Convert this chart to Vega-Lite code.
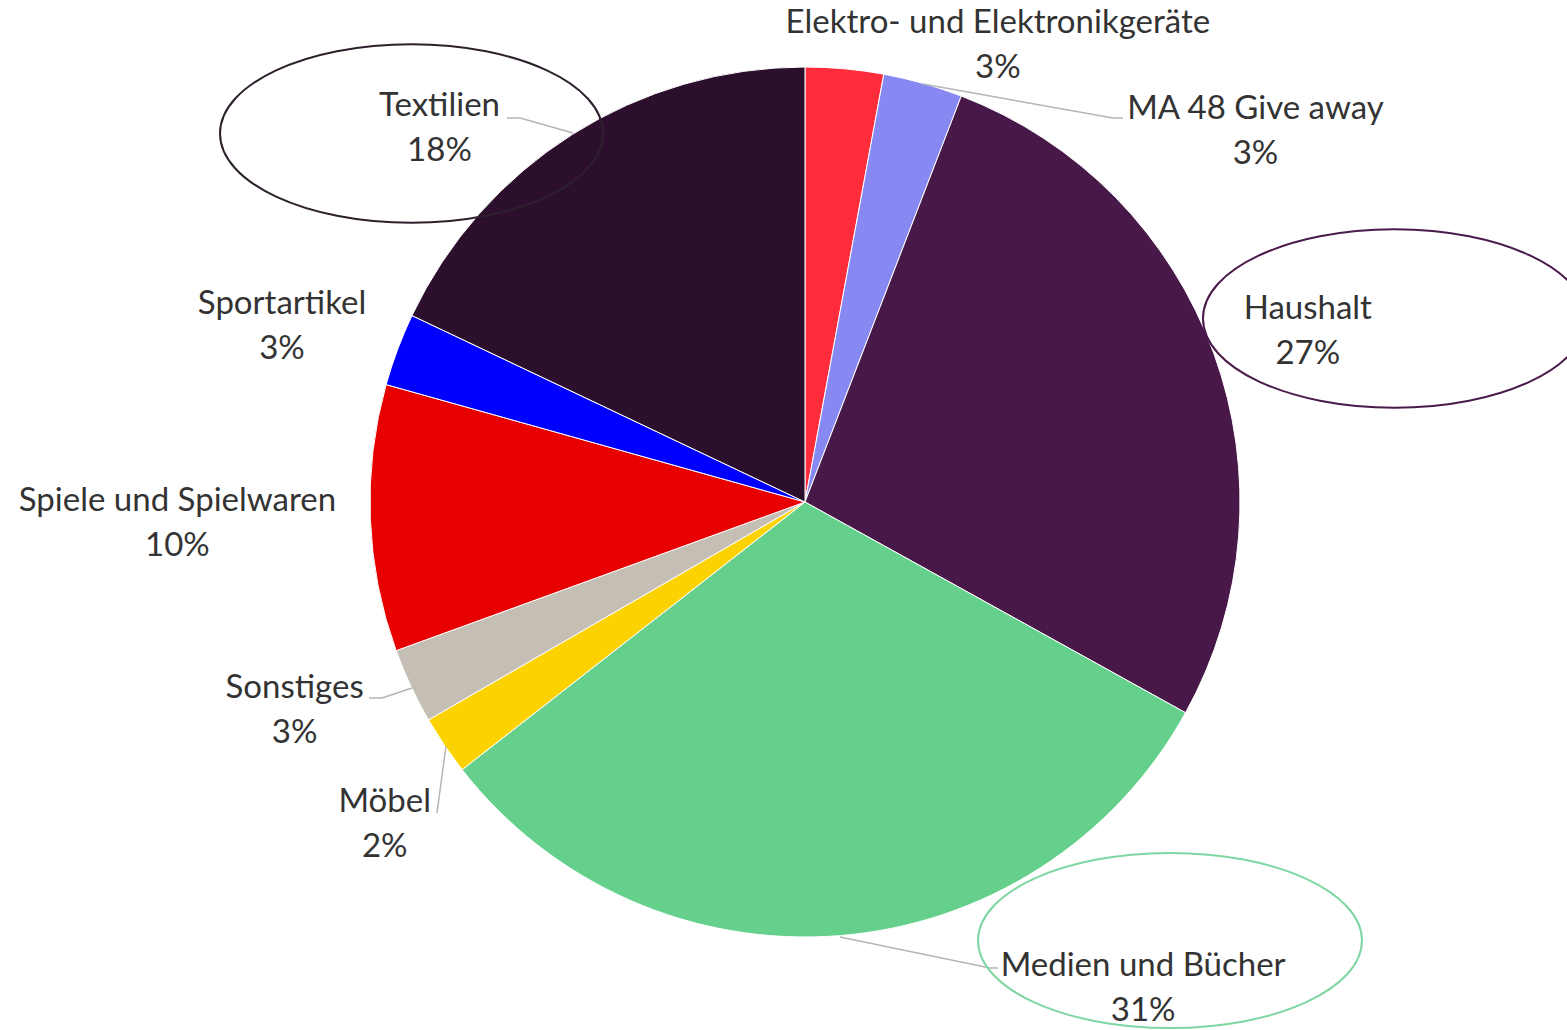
{
  "$schema": "https://vega.github.io/schema/vega-lite/v6.json",
  "width": 1524,
  "height": 1004,
  "padding": {"left": 43, "top": 0, "right": 0, "bottom": 26},
  "autosize": {"type": "none"},
  "background": "#ffffff",
  "config": {
    "view": {"stroke": null},
    "text": {"font": "Lato", "fontSize": 33, "lineHeight": 45, "lineBreak": "\n", "color": "#333333", "align": "center", "baseline": "middle"}
  },
  "data": {
    "values": [
      {"Kategorie": "Elektro- und Elektronikgeräte", "Anteil": 2.9, "Label": "Elektro- und Elektronikgeräte\n3%"},
      {"Kategorie": "MA 48 Give away", "Anteil": 2.95, "Label": "MA 48 Give away\n3%"},
      {"Kategorie": "Haushalt", "Anteil": 27.2, "Label": "Haushalt\n27%"},
      {"Kategorie": "Medien und Bücher", "Anteil": 31.4, "Label": "Medien und Bücher\n31%"},
      {"Kategorie": "Möbel", "Anteil": 2.2, "Label": "Möbel\n2%"},
      {"Kategorie": "Sonstiges", "Anteil": 2.8, "Label": "Sonstiges\n3%"},
      {"Kategorie": "Spiele und Spielwaren", "Anteil": 9.9, "Label": "Spiele und Spielwaren\n10%"},
      {"Kategorie": "Sportartikel", "Anteil": 2.7, "Label": "Sportartikel\n3%"},
      {"Kategorie": "Textilien", "Anteil": 17.95, "Label": "Textilien\n18%"}
    ]
  },
  "transform": [{"stack": "Anteil", "groupby": [], "as": ["a0", "a1"]}],
  "layer": [
    {
      "mark": {"type": "arc", "outerRadius": 435, "stroke": "#ffffff", "strokeWidth": 1},
      "encoding": {
        "theta": {"field": "a0", "type": "quantitative", "scale": {"domain": [0, 100]}},
        "theta2": {"field": "a1"},
        "color": {
          "field": "Kategorie", "type": "nominal", "legend": null,
          "scale": {
            "domain": ["Elektro- und Elektronikgeräte", "MA 48 Give away", "Haushalt", "Medien und Bücher", "Möbel", "Sonstiges", "Spiele und Spielwaren", "Sportartikel", "Textilien"],
            "range": ["#FF2D3C", "#8888F2", "#481848", "#64D08C", "#FCD200", "#C5BEB4", "#E80000", "#0000FF", "#2C0F2C"]
          }
        }
      }
    },
    {
      "mark": {"type": "text", "radius": 460, "dx": 151, "dy": -20.5},
      "encoding": {"theta": {"field": "Anteil", "type": "quantitative", "stack": true}, "order": {"field": "a0", "type": "quantitative"}, "text": {"condition": {"test": "datum.Kategorie === 'Elektro- und Elektronikgeräte'", "field": "Label"}, "value": ""}}
    },
    {
      "mark": {"type": "text", "radius": 440, "dx": 331, "dy": 30.5},
      "encoding": {"theta": {"field": "Anteil", "type": "quantitative", "stack": true}, "order": {"field": "a0", "type": "quantitative"}, "text": {"condition": {"test": "datum.Kategorie === 'MA 48 Give away'", "field": "Label"}, "value": ""}}
    },
    {
      "mark": {"type": "text", "radius": 535, "dx": 0, "dy": -10.5},
      "encoding": {"theta": {"field": "Anteil", "type": "quantitative", "stack": true}, "order": {"field": "a0", "type": "quantitative"}, "text": {"condition": {"test": "datum.Kategorie === 'Haushalt'", "field": "Label"}, "value": ""}}
    },
    {
      "mark": {"type": "text", "radius": 486, "dx": 300, "dy": -20.5},
      "encoding": {"theta": {"field": "Anteil", "type": "quantitative", "stack": true}, "order": {"field": "a0", "type": "quantitative"}, "text": {"condition": {"test": "datum.Kategorie === 'Medien und Bücher'", "field": "Label"}, "value": ""}}
    },
    {
      "mark": {"type": "text", "radius": 530, "dx": 19, "dy": 3.5},
      "encoding": {"theta": {"field": "Anteil", "type": "quantitative", "stack": true}, "order": {"field": "a0", "type": "quantitative"}, "text": {"condition": {"test": "datum.Kategorie === 'Möbel'", "field": "Label"}, "value": ""}}
    },
    {
      "mark": {"type": "text", "radius": 550, "dx": -12, "dy": -46.5},
      "encoding": {"theta": {"field": "Anteil", "type": "quantitative", "stack": true}, "order": {"field": "a0", "type": "quantitative"}, "text": {"condition": {"test": "datum.Kategorie === 'Sonstiges'", "field": "Label"}, "value": ""}}
    },
    {
      "mark": {"type": "text", "radius": 628, "dx": 0, "dy": -24.5},
      "encoding": {"theta": {"field": "Anteil", "type": "quantitative", "stack": true}, "order": {"field": "a0", "type": "quantitative"}, "text": {"condition": {"test": "datum.Kategorie === 'Spiele und Spielwaren'", "field": "Label"}, "value": ""}}
    },
    {
      "mark": {"type": "text", "radius": 552, "dx": -6, "dy": -4.5},
      "encoding": {"theta": {"field": "Anteil", "type": "quantitative", "stack": true}, "order": {"field": "a0", "type": "quantitative"}, "text": {"condition": {"test": "datum.Kategorie === 'Sportartikel'", "field": "Label"}, "value": ""}}
    },
    {
      "mark": {"type": "text", "radius": 450, "dx": -125, "dy": -15.5},
      "encoding": {"theta": {"field": "Anteil", "type": "quantitative", "stack": true}, "order": {"field": "a0", "type": "quantitative"}, "text": {"condition": {"test": "datum.Kategorie === 'Textilien'", "field": "Label"}, "value": ""}}
    },
    {
      "data": {"values": [{}]},
      "mark": {"type": "rule", "color": "#b5b5b5", "strokeWidth": 1.5},
      "encoding": {
        "x": {"datum": 923, "type": "quantitative", "scale": {"domain": [43, 1567], "range": [0, 1524], "nice": false, "zero": false}, "axis": null},
        "y": {"datum": 84, "type": "quantitative", "scale": {"domain": [0, 1004], "range": [0, 1004], "nice": false, "zero": false}, "axis": null},
        "x2": {"datum": 1113}, "y2": {"datum": 118}
      }
    },
    {
      "data": {"values": [{}]},
      "mark": {"type": "rule", "color": "#b5b5b5", "strokeWidth": 1.5},
      "encoding": {
        "x": {"datum": 1113, "type": "quantitative", "scale": {"domain": [43, 1567], "range": [0, 1524], "nice": false, "zero": false}, "axis": null},
        "y": {"datum": 118, "type": "quantitative", "scale": {"domain": [0, 1004], "range": [0, 1004], "nice": false, "zero": false}, "axis": null},
        "x2": {"datum": 1123}, "y2": {"datum": 118}
      }
    },
    {
      "data": {"values": [{}]},
      "mark": {"type": "rule", "color": "#b5b5b5", "strokeWidth": 1.5},
      "encoding": {
        "x": {"datum": 573, "type": "quantitative", "scale": {"domain": [43, 1567], "range": [0, 1524], "nice": false, "zero": false}, "axis": null},
        "y": {"datum": 133, "type": "quantitative", "scale": {"domain": [0, 1004], "range": [0, 1004], "nice": false, "zero": false}, "axis": null},
        "x2": {"datum": 520}, "y2": {"datum": 118}
      }
    },
    {
      "data": {"values": [{}]},
      "mark": {"type": "rule", "color": "#b5b5b5", "strokeWidth": 1.5},
      "encoding": {
        "x": {"datum": 520, "type": "quantitative", "scale": {"domain": [43, 1567], "range": [0, 1524], "nice": false, "zero": false}, "axis": null},
        "y": {"datum": 118, "type": "quantitative", "scale": {"domain": [0, 1004], "range": [0, 1004], "nice": false, "zero": false}, "axis": null},
        "x2": {"datum": 507}, "y2": {"datum": 118}
      }
    },
    {
      "data": {"values": [{}]},
      "mark": {"type": "rule", "color": "#b5b5b5", "strokeWidth": 1.5},
      "encoding": {
        "x": {"datum": 412, "type": "quantitative", "scale": {"domain": [43, 1567], "range": [0, 1524], "nice": false, "zero": false}, "axis": null},
        "y": {"datum": 688, "type": "quantitative", "scale": {"domain": [0, 1004], "range": [0, 1004], "nice": false, "zero": false}, "axis": null},
        "x2": {"datum": 382}, "y2": {"datum": 698}
      }
    },
    {
      "data": {"values": [{}]},
      "mark": {"type": "rule", "color": "#b5b5b5", "strokeWidth": 1.5},
      "encoding": {
        "x": {"datum": 382, "type": "quantitative", "scale": {"domain": [43, 1567], "range": [0, 1524], "nice": false, "zero": false}, "axis": null},
        "y": {"datum": 698, "type": "quantitative", "scale": {"domain": [0, 1004], "range": [0, 1004], "nice": false, "zero": false}, "axis": null},
        "x2": {"datum": 369}, "y2": {"datum": 698}
      }
    },
    {
      "data": {"values": [{}]},
      "mark": {"type": "rule", "color": "#b5b5b5", "strokeWidth": 1.5},
      "encoding": {
        "x": {"datum": 446, "type": "quantitative", "scale": {"domain": [43, 1567], "range": [0, 1524], "nice": false, "zero": false}, "axis": null},
        "y": {"datum": 746, "type": "quantitative", "scale": {"domain": [0, 1004], "range": [0, 1004], "nice": false, "zero": false}, "axis": null},
        "x2": {"datum": 437}, "y2": {"datum": 813}
      }
    },
    {
      "data": {"values": [{}]},
      "mark": {"type": "rule", "color": "#b5b5b5", "strokeWidth": 1.5},
      "encoding": {
        "x": {"datum": 840, "type": "quantitative", "scale": {"domain": [43, 1567], "range": [0, 1524], "nice": false, "zero": false}, "axis": null},
        "y": {"datum": 937, "type": "quantitative", "scale": {"domain": [0, 1004], "range": [0, 1004], "nice": false, "zero": false}, "axis": null},
        "x2": {"datum": 990}, "y2": {"datum": 968}
      }
    },
    {
      "data": {"values": [{}]},
      "mark": {"type": "rule", "color": "#b5b5b5", "strokeWidth": 1.5},
      "encoding": {
        "x": {"datum": 990, "type": "quantitative", "scale": {"domain": [43, 1567], "range": [0, 1524], "nice": false, "zero": false}, "axis": null},
        "y": {"datum": 968, "type": "quantitative", "scale": {"domain": [0, 1004], "range": [0, 1004], "nice": false, "zero": false}, "axis": null},
        "x2": {"datum": 998}, "y2": {"datum": 968}
      }
    },
    {
      "data": {"values": [{}]},
      "mark": {"type": "point", "shape": "M -1 0 C -1 -0.257 -0.5523 -0.466 0 -0.466 C 0.5523 -0.466 1 -0.257 1 0 C 1 0.257 0.5523 0.466 0 0.466 C -0.5523 0.466 -1 0.257 -1 0 Z", "size": 146689, "filled": false, "color": "#2d202d", "strokeWidth": 2, "opacity": 1},
      "encoding": {
        "x": {"datum": 411.5, "type": "quantitative", "scale": {"domain": [43, 1567], "range": [0, 1524], "nice": false, "zero": false}, "axis": null},
        "y": {"datum": 133.5, "type": "quantitative", "scale": {"domain": [0, 1004], "range": [0, 1004], "nice": false, "zero": false}, "axis": null}
      }
    },
    {
      "data": {"values": [{}]},
      "mark": {"type": "point", "shape": "M -1 0 C -1 -0.257 -0.5523 -0.466 0 -0.466 C 0.5523 -0.466 1 -0.257 1 0 C 1 0.257 0.5523 0.466 0 0.466 C -0.5523 0.466 -1 0.257 -1 0 Z", "size": 146689, "filled": false, "color": "#4a1a4a", "strokeWidth": 2, "opacity": 1},
      "encoding": {
        "x": {"datum": 1394.5, "type": "quantitative", "scale": {"domain": [43, 1567], "range": [0, 1524], "nice": false, "zero": false}, "axis": null},
        "y": {"datum": 318.5, "type": "quantitative", "scale": {"domain": [0, 1004], "range": [0, 1004], "nice": false, "zero": false}, "axis": null}
      }
    },
    {
      "data": {"values": [{}]},
      "mark": {"type": "point", "shape": "M -1 0 C -1 -0.251 -0.5523 -0.456 0 -0.456 C 0.5523 -0.456 1 -0.251 1 0 C 1 0.251 0.5523 0.456 0 0.456 C -0.5523 0.456 -1 0.251 -1 0 Z", "size": 147456, "filled": false, "color": "#7ed6a2", "strokeWidth": 2, "opacity": 1},
      "encoding": {
        "x": {"datum": 1170, "type": "quantitative", "scale": {"domain": [43, 1567], "range": [0, 1524], "nice": false, "zero": false}, "axis": null},
        "y": {"datum": 940.5, "type": "quantitative", "scale": {"domain": [0, 1004], "range": [0, 1004], "nice": false, "zero": false}, "axis": null}
      }
    }
  ]
}
